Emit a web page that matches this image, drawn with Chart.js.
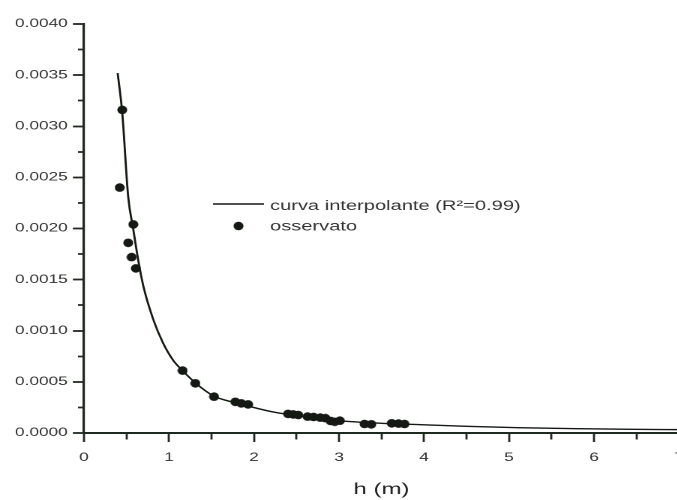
<!DOCTYPE html>
<html>
<head>
<meta charset="utf-8">
<script src="https://cdn.jsdelivr.net/npm/chart.js@4/dist/chart.umd.min.js"></script>
<style>
  html, body { margin: 0; padding: 0; width: 677px; height: 500px; overflow: hidden; background: #ffffff; }
  /* the plot is laid out on a narrow canvas and widened 1.5x, giving the wide lettering */
  #wrap { position: absolute; left: 0; top: 0; width: 480px; height: 500px; transform: scaleX(1.5); transform-origin: 0 0; }
</style>
</head>
<body>
<div id="wrap"><canvas id="chart"></canvas></div>
<script>
// Series labels
const curveLabel = 'curva interpolante (R²=0.99)';
const obsLabel = 'osservato';
const xTitle = 'h (m)';

// Fitted curve, h (m) against the fitted value
const curveH = [0.396, 0.45, 0.52, 0.58, 0.64, 0.70, 0.815, 0.93, 1.05, 1.16, 1.31, 1.53, 1.76, 1.90, 2.20, 2.42, 2.70, 3.00, 3.50, 4.00, 4.50, 5.10, 5.80, 6.46, 7.00];
const curveQ = [0.00352, 0.00313, 0.00231, 0.00199, 0.00168, 0.00143, 0.00111, 0.00088, 0.00071, 0.00061, 0.00049, 0.00036, 0.00030, 0.00027, 0.00021, 0.00018, 0.00015, 0.00012, 0.000095, 0.000080, 0.000065, 0.000052, 0.000042, 0.000036, 0.000033];

// Observed values
const obsH = [0.42, 0.45, 0.52, 0.56, 0.58, 0.61, 1.16, 1.31, 1.53, 1.78, 1.85, 1.93, 2.40, 2.46, 2.52, 2.63, 2.70, 2.78, 2.84, 2.90, 2.95, 3.01, 3.30, 3.38, 3.62, 3.70, 3.77];
const obsQ = [0.00240, 0.00316, 0.00186, 0.00172, 0.00204, 0.00161, 0.00061, 0.000486, 0.000355, 0.000305, 0.00029, 0.00028, 0.000187, 0.000182, 0.000176, 0.000160, 0.000157, 0.000150, 0.000145, 0.000118, 0.000110, 0.000120, 0.000088, 0.000085, 0.000095, 0.000092, 0.000088];

// Tick labels (major ticks only; minor ticks sit between them)
const xTickLabels = ['0', '1', '2', '3', '4', '5', '6', '7'];
const yTickLabels = ['0.0000', '0.0005', '0.0010', '0.0015', '0.0020', '0.0025', '0.0030', '0.0035', '0.0040'];

const FONT = '"Liberation Sans", Arial, sans-serif';
const AXIS = '#1f2a1f';
const INK = '#141914';
const TEXT = '#333333';

// dot marker: drawn large, shown small so it stays crisp; round once widened
function makeDot() {
  const c = document.createElement('canvas');
  c.width = 32; c.height = 40;
  const g = c.getContext('2d');
  g.fillStyle = INK;
  g.beginPath();
  g.ellipse(16, 20, 15, 19, 0, 0, Math.PI * 2);
  g.fill();
  const img = new Image();
  img.width = 7.6;
  img.height = 9.8;
  img.src = c.toDataURL();
  return img;
}
const dot = makeDot();

// legend drawn inside the plot area
const inlineLegend = {
  id: 'inlineLegend',
  afterDatasetsDraw(chart, args, o) {
    const ctx = chart.ctx;
    const ds = chart.data.datasets;
    ctx.save();
    ctx.font = o.fontSize + 'px ' + FONT;
    ctx.fillStyle = o.color;
    ctx.textAlign = 'left';
    ctx.textBaseline = 'middle';
    // row 1: line sample
    ctx.strokeStyle = INK;
    ctx.lineWidth = 1.4;
    ctx.beginPath();
    ctx.moveTo(o.x, o.y);
    ctx.lineTo(o.x + o.sample, o.y);
    ctx.stroke();
    ctx.fillText(ds[1].label, o.textX, o.y + 2.5);
    // row 2: point sample
    const y2 = o.y + o.row;
    ctx.drawImage(dot, o.x + o.sample / 2 - dot.width / 2, y2 - dot.height / 2 + 1, dot.width, dot.height);
    ctx.fillText(ds[0].label, o.textX, y2 + 2);
    ctx.restore();
  }
};

function build() {
  new Chart(document.getElementById('chart'), {
    data: {
      datasets: [
        {
          type: 'scatter',
          label: obsLabel,
          data: obsH.map((h, i) => ({ x: h, y: obsQ[i] })),
          pointStyle: dot,
          pointRadius: 4,
          order: 1
        },
        {
          type: 'line',
          label: curveLabel,
          data: curveH.map((h, i) => ({ x: h, y: curveQ[i] })),
          borderColor: INK,
          borderWidth: 1.4,
          pointRadius: 0,
          fill: false,
          cubicInterpolationMode: 'monotone',
          order: 2
        }
      ]
    },
    options: {
      responsive: true,
      maintainAspectRatio: false,
      animation: false,
      devicePixelRatio: 2,
      layout: { padding: { left: 0, top: 24, right: 27.3, bottom: 0 } },
      scales: {
        x: {
          type: 'linear',
          position: 'bottom',
          min: 0,
          max: 7,
          afterFit(s) { s.height = 67; },
          border: { display: true, color: AXIS, width: 2 },
          grid: {
            display: true,
            drawOnChartArea: false,
            drawTicks: true,
            tickLength: 9,
            tickColor: AXIS,
            tickWidth: 1.4,
            // half-unit ticks are shorter
            tickBorderDash: (c) => (c.index % 2 ? [5.5, 100] : [])
          },
          ticks: {
            stepSize: 0.5,
            autoSkip: false,
            maxRotation: 0,
            padding: 9,
            color: TEXT,
            font: { family: FONT, size: 11.5 },
            callback: (v, i) => (i % 2 ? '' : xTickLabels[i / 2])
          },
          title: {
            display: true,
            text: xTitle,
            color: '#222222',
            font: { family: FONT, size: 16 },
            padding: { top: 0, bottom: 1 }
          }
        },
        y: {
          type: 'linear',
          position: 'left',
          min: 0,
          max: 0.004,
          afterFit(s) { s.width = 56; },
          border: { display: true, color: AXIS, width: 1.6 },
          grid: {
            display: true,
            drawOnChartArea: false,
            drawTicks: true,
            tickLength: 7.4,
            tickColor: AXIS,
            tickWidth: 1.8,
            // quarter-step ticks are shorter
            tickBorderDash: (c) => (c.index % 2 ? [0, 3.4, 4, 100] : [])
          },
          ticks: {
            stepSize: 0.00025,
            autoSkip: false,
            padding: 3.4,
            color: TEXT,
            font: { family: FONT, size: 11.5 },
            callback: (v, i) => (i % 2 ? '' : yTickLabels[i / 2])
          }
        }
      },
      plugins: {
        legend: { display: false },
        tooltip: { enabled: false },
        inlineLegend: { x: 142, y: 204, sample: 34, textX: 180, row: 21, fontSize: 13.4, color: TEXT }
      }
    },
    plugins: [inlineLegend]
  });
}

if (dot.complete) build(); else dot.onload = build;
</script>
</body>
</html>
